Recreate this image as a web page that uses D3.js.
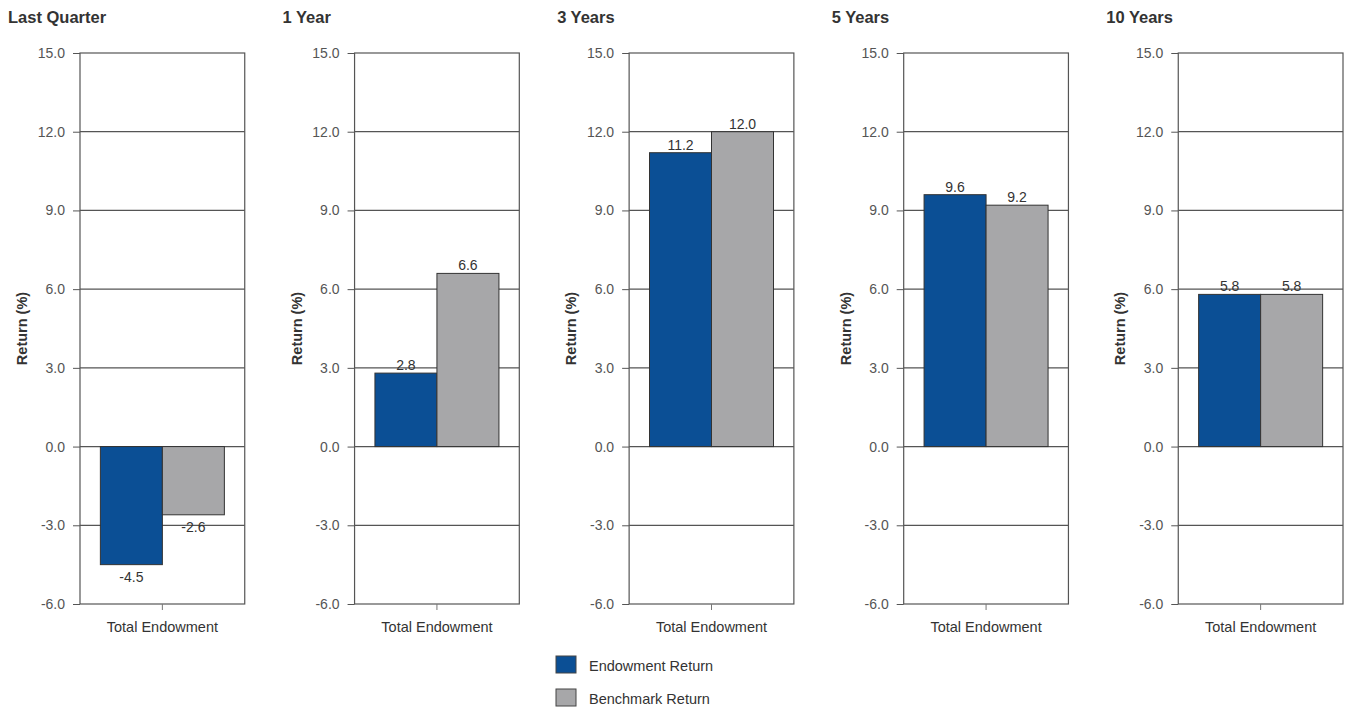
<!DOCTYPE html>
<html>
<head>
<meta charset="utf-8">
<script src="https://cdn.jsdelivr.net/npm/d3@7"></script>
<style>
  html, body { margin: 0; padding: 0; background: #fff; }
  svg { display: block; font-family: "Liberation Sans", Arial, sans-serif; }
</style>
</head>
<body>
<svg id="chart" width="1345" height="713"></svg>
<script>
const periods = ["Last Quarter", "1 Year", "3 Years", "5 Years", "10 Years"];
const seriesNames = ["Endowment Return", "Benchmark Return"];
const endowmentValues = [-4.5, 2.8, 11.2, 9.6, 5.8];
const benchmarkValues = [-2.6, 6.6, 12.0, 9.2, 5.8];
const yTicks = [-6, -3, 0, 3, 6, 9, 12, 15];
const categoryLabel = "Total Endowment";
const yAxisTitle = "Return (%)";
const colors = ["#0b4f95", "#a7a7a9"];

const svg = d3.select("#chart");
const plotTop = 53, plotBottom = 604;
const fmt = v => d3.format(".1f")(v).replace("\u2212", "-");

const panelX = d3.scaleBand().domain(periods).range([80, 1343]).paddingInner(0.4).paddingOuter(0);
const y = d3.scaleLinear().domain([-6, 15]).range([plotBottom, plotTop]);

periods.forEach((p, i) => {
  const x0 = panelX(p), w = panelX.bandwidth();
  const cx = x0 + w / 2;
  const g = svg.append("g");

  // title
  g.append("text").attr("x", x0 - 72).attr("y", 23)
    .attr("font-size", 16.5).attr("font-weight", "bold").attr("fill", "#333").text(p);

  // gridlines + ticks
  const axis = d3.axisLeft(y).tickValues(yTicks).tickFormat(fmt).tickSize(7).tickPadding(8);
  const ag = g.append("g").attr("transform", `translate(${x0},0)`).call(axis);
  ag.select(".domain").remove();
  ag.selectAll(".tick line").attr("stroke", "#555");
  ag.selectAll(".tick text").attr("font-size", 14).attr("fill", "#555")
    .attr("font-family", "Liberation Sans, Arial, sans-serif");
  g.selectAll("line.grid").data(yTicks.filter(t => t > -6 && t < 15)).enter().append("line")
    .attr("x1", x0).attr("x2", x0 + w).attr("y1", d => y(d)).attr("y2", d => y(d))
    .attr("stroke", "#555").attr("stroke-width", 1.2);

  // y axis title
  g.append("text").attr("transform", `translate(${x0 - 53},${(plotTop + plotBottom) / 2}) rotate(-90)`)
    .attr("text-anchor", "middle").attr("font-size", 14.5).attr("font-weight", "bold").attr("fill", "#333")
    .text(yAxisTitle);

  // bars
  const xs = d3.scaleBand().domain(seriesNames).range([cx - 62, cx + 62]);
  const vals = [endowmentValues[i], benchmarkValues[i]];
  seriesNames.forEach((s, j) => {
    const v = vals[j];
    g.append("rect").attr("x", xs(s)).attr("width", xs.bandwidth())
      .attr("y", y(Math.max(0, v))).attr("height", Math.abs(y(v) - y(0)))
      .attr("fill", colors[j]).attr("stroke", "#333").attr("stroke-width", 1);
    g.append("text").attr("x", xs(s) + xs.bandwidth() / 2)
      .attr("y", v >= 0 ? y(v) - 3 : y(v) + 17)
      .attr("text-anchor", "middle").attr("font-size", 14).attr("fill", "#333")
      .text(fmt(v));
  });

  // frame
  g.append("rect").attr("x", x0).attr("y", plotTop).attr("width", w).attr("height", plotBottom - plotTop)
    .attr("fill", "none").attr("stroke", "#555").attr("stroke-width", 1.2);
  // category tick
  g.append("line").attr("x1", cx).attr("x2", cx).attr("y1", plotBottom).attr("y2", plotBottom + 6).attr("stroke", "#777");
  g.append("text").attr("x", cx).attr("y", plotBottom + 28).attr("text-anchor", "middle")
    .attr("font-size", 14.5).attr("fill", "#333").text(categoryLabel);
});

// legend
const lg = svg.append("g");
seriesNames.forEach((s, j) => {
  const ly = 656 + j * 33;
  lg.append("rect").attr("x", 556).attr("y", ly).attr("width", 20).attr("height", 17)
    .attr("fill", colors[j]).attr("stroke", "#444");
  lg.append("text").attr("x", 589).attr("y", ly + 15).attr("font-size", 14.5).attr("fill", "#333").text(s);
});
</script>
</body>
</html>
